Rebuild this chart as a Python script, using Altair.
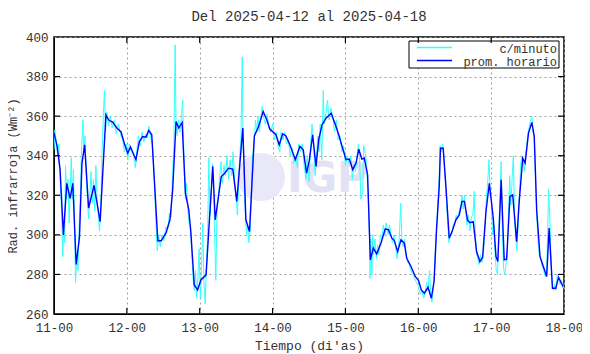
import altair as alt
import pandas as pd

# Hours since 2025-04-11 00:00, hourly average (blue)
blue_h = [0, 1, 2, 3.1, 4.2, 5.3, 6.2, 7.3, 8.4, 9.2, 10.1, 11.4, 13.2, 15.2, 17.1, 18, 19.3, 20.7, 22.1, 23.3,
          24.3, 25.2, 27, 28.1, 29.2, 30.3, 31.2, 32.2, 34.2, 35.3, 36.9, 38.2, 39.1, 40.2, 41.1, 42.2, 43.3, 44.4,
          45.1, 46.2, 47.3, 48.4, 50.1, 51.2, 52.3, 53.1, 55.1, 56.1, 57.5, 58.9, 60.2, 62.2, 63.2, 64.4, 66, 67.4,
          68.9, 70.1, 71.1, 73.1, 74.2, 75.3, 76.4, 77.7, 79.5, 81.0, 82.1, 83.2, 84.1, 85.2, 86.3, 87.2, 88.3, 89.6,
          91.3, 92.7, 93.8, 94.9, 96.2, 97.3, 98.4, 99.5, 100.4, 101.4, 102.2, 103.3, 104.2, 105.2, 106.3, 107.7,
          109.1, 110.2, 111.3, 112.1, 113.2, 114.3, 115.4, 116.2, 117.6, 119, 120.1, 121.0, 122, 123.2, 124.3, 125.2,
          126.0, 126.9, 127.3, 128.2, 129.1, 130.2, 131.3, 132.4, 133.5, 134.4, 135.2, 136.2, 137, 138.1, 139.2,
          140.3, 141.2, 142.3, 143.4, 144.7, 145.6, 146.2, 147.3, 148.3, 149.1, 150.2, 151.1, 152.4, 153.2, 154.4,
          155.2, 156.3, 157.4, 158.2, 159, 160.1, 161.2, 162.3, 163.1, 164.2, 165.3, 166.2, 167.7]
blue_v = [351.5, 345, 333, 300, 326, 318.5, 326, 285, 299, 336, 345.5, 313.5, 325, 306.7, 360.7, 358, 357, 354, 352, 345.5,
          341.3, 344.4, 338, 347, 349.7, 349.4, 352.8, 350.6, 297, 297, 301, 307.6, 322.8, 357.3, 354, 356.8, 321, 312.6,
          300.8, 274.7, 272.2, 277.2, 279.8, 307.6, 334.6, 307.6, 329.5, 330.9, 333.7, 333.2, 316.9, 354, 307.6, 301.7, 350, 354.8,
          362.4, 358.2, 353.5, 350.6, 345.5, 351.1, 350, 345.5, 338, 344.7, 343, 331.2, 337.5, 350.6, 334.6, 348.1, 355.6, 359,
          361.5, 355.6, 350.6, 344.7, 338, 338.3, 333, 336.3, 343.3, 338.3, 338.8, 330.4, 287.4, 293.3, 290.4, 295.8,
          302.9, 302.6, 298.3, 297.1, 291.6, 297.5, 295.8, 288.2, 284, 279, 276.9, 272.2, 270.5, 273.5, 268, 276.4,
          302.5, 324.5, 343.8, 343.8, 324.5, 298.3, 302.5, 307.6, 310.1, 316.9, 316.9, 307.6, 306.2, 306.7, 291.6,
          286.5, 288.7, 311.8, 326.1, 308.4, 289, 286.5, 327.8, 287.4, 287.7, 319.4, 320.2, 296.6, 316, 338.8,
          336.3, 351.4, 356.8, 349.7, 312.6, 289, 284, 279, 303.4, 273, 273, 278.6, 273.8]

# Per-minute readings (cyan)
cyan_h = [0, 0.3, 0.7, 1.2, 1.6, 2.0, 2.5, 2.9, 3.2, 3.5, 3.8, 4.2, 4.6, 5.0, 5.3, 5.7, 6.0, 6.4, 6.8, 7.1, 7.5, 7.9,
          8.3, 8.7, 9.0, 9.5, 9.8, 10.2, 10.6, 11.0, 11.4, 11.8, 12.2, 12.6, 13.0, 13.4, 13.8, 14.2, 14.6, 15.0, 15.4,
          15.8, 16.3, 16.6, 17.0, 17.4, 18.0, 18.5, 19.2, 19.8, 20.5, 21.2, 22.0, 22.6, 23.2, 23.8,
          24.3, 24.8, 25.5, 26.2, 26.8, 27.3, 27.8, 28.4, 29.0, 29.6, 30.2, 30.8, 31.3, 32.0, 32.4,
          33.0, 33.6, 34.0, 34.5, 35.0, 35.6, 36.2, 36.8, 37.5, 38.0, 38.6, 39.0,
          39.5, 39.9, 40.2, 40.6, 41.0, 41.5, 42.0, 42.4, 42.8, 43.3, 43.7, 44.2, 44.6, 45.0,
          45.4, 45.8, 46.2, 46.6, 47.0, 47.4, 47.8, 48.2, 48.6, 49.0, 49.4, 49.8, 50.2, 50.6,
          51.0, 51.4, 51.8, 52.2, 52.6, 53.0, 53.3, 53.7, 54.2,
          54.6, 55.0, 55.5, 56.0, 56.5, 57.0, 57.5, 58.0, 58.5, 59.0, 59.5, 60.0, 60.4,
          60.8, 61.2, 61.6, 62.0, 62.3, 62.6, 63.0, 63.4, 63.8, 64.2, 64.6, 65.0, 65.4,
          66.0, 66.4, 66.8, 67.2, 67.6, 68.2, 68.6, 69.0, 69.6, 70.2, 70.8, 71.4,
          72.0, 72.6, 73.2, 73.8, 74.4, 74.8, 75.4, 76.0, 76.6, 77.2, 77.8, 78.4, 79.0, 79.6, 80.2, 80.6, 81.2, 81.8,
          82.4, 83.0, 83.4, 84.0,
          84.5, 85.0, 85.5, 86.0, 86.4, 86.9, 87.3, 87.7, 88.2, 88.7, 89.0, 89.6, 90.1, 90.6, 91.2, 91.8,
          92.4, 93.0, 93.6, 94.2, 94.8, 95.4, 96.0, 96.6, 97.2, 97.8, 98.3, 98.8, 99.3, 99.8, 100.3, 100.7, 101.1,
          101.7, 102.0, 102.5, 103.0,
          103.5, 103.9, 104.1, 104.4, 104.7, 105.0, 105.3, 105.7, 106.2, 106.6, 107.0, 107.5, 108.0, 108.5, 109.0,
          109.4, 110.0, 110.5, 111.0, 111.5, 112.0, 112.5, 113.0, 113.4, 113.8, 114.2, 114.6, 115.0, 115.5, 116.0,
          116.5, 117.0, 117.6, 118.2, 118.8, 119.4, 120.0, 120.6, 121.2, 121.8, 122.3, 122.8, 123.2, 123.7, 124.1,
          124.5, 124.9, 125.3,
          125.7, 126.1, 126.5, 126.9, 127.2, 127.6, 128.0, 128.4, 128.8, 129.2, 129.7, 130.1, 130.5,
          131.0, 131.5, 132.0, 132.5, 133.0, 133.5, 134.0, 134.4, 134.8, 135.2, 135.6, 136.0, 136.5, 137.0, 137.5,
          138.0, 138.4, 138.8, 139.2,
          139.6, 140.0, 140.5, 141.0, 141.5, 142.0, 142.4, 142.8, 143.3, 143.7, 144.1, 144.5, 144.9, 145.3, 145.7,
          146.1, 146.5, 146.9, 147.3, 147.7, 148.1, 148.5, 148.9,
          149.3, 149.7, 150.1, 150.5, 150.9, 151.3, 151.7, 152.1, 152.5, 152.9, 153.3, 153.7, 154.1, 154.5, 154.9,
          155.3, 155.7, 156.2, 156.6, 157.0, 157.4, 157.8, 158.2, 158.6, 159.0, 159.4,
          159.8, 160.3, 160.8, 161.3, 161.8, 162.2, 162.6, 162.9, 163.3, 163.7, 164.1, 164.5, 164.9, 165.3, 165.8,
          166.2, 166.7, 167.2, 167.7, 168]
cyan_v = [343, 353, 348, 340, 346, 330, 312, 289, 305, 296, 335, 318, 328, 306, 322, 339, 318, 333, 300, 276, 290, 282,
          305, 320, 340, 358, 342, 350, 330, 318, 308, 320, 332, 316, 328, 312, 335, 318, 310, 302, 312,
          340, 362, 373, 352, 362, 355, 360, 354, 358, 351, 356, 350, 348, 342, 346,
          338, 346, 342, 340, 334, 343, 350, 345, 352, 347, 351, 349, 355, 348, 346,
          330, 305, 292, 300, 294, 300, 297, 304, 303, 311, 309, 330,
          345, 396, 355, 350, 358, 352, 360, 368, 340, 318, 326, 310, 305, 305,
          290, 278, 272, 282, 268, 278, 293, 268, 283, 306, 276, 265, 285, 300,
          339, 310, 320, 336, 322, 295, 277, 312, 320,
          330, 337, 326, 335, 330, 340, 328, 338, 330, 342, 328, 320, 310,
          325, 340, 350, 390, 345, 330, 312, 300, 305, 296, 302, 320, 340,
          348, 358, 352, 360, 352, 360, 365, 360, 356, 361, 354, 352,
          356, 348, 352, 345, 342, 352, 348, 352, 346, 348, 340, 344, 336, 340, 334, 346, 342, 346,
          335, 328, 340, 327,
          345, 356, 345, 330, 338, 350, 342, 356, 338, 373, 356, 362, 368, 358, 364, 360,
          352, 358, 348, 350, 342, 345, 335, 340, 336, 340, 328, 336, 332, 340, 346, 337, 318,
          322, 345, 342, 335,
          320, 300, 278, 298, 280, 300, 290, 298, 288, 295, 290, 300, 298, 305, 300,
          306, 300, 305, 300, 296, 300, 294, 288, 292, 300, 316, 298, 294, 298, 290,
          286, 285, 282, 280, 278, 276, 274, 270, 272, 268, 272, 276, 272, 282, 270,
          266, 272, 280,
          295, 305, 318, 330, 345, 342, 346, 340, 330, 320, 305, 296, 300,
          300, 305, 306, 310, 308, 312, 315, 320, 313, 320, 312, 305, 310, 302, 309,
          310, 322, 300, 290,
          288, 285, 290, 286, 292, 305, 318, 325, 338, 320, 318, 300, 305, 290, 282,
          280, 300, 320, 337, 300, 283, 280, 285,
          290, 310, 330, 315, 328, 340, 310, 298, 292, 305, 320, 335, 340, 338, 332,
          340, 345, 352, 355, 358, 360, 352, 350, 330, 310, 298,
          290, 288, 284, 282, 279, 280, 300, 323, 310, 290, 275, 272, 275, 272, 280,
          278, 275, 277, 273, 275]

series_names = ["c/minuto", "prom. horario"]
series_colors = ["#33ffff", "#0000ff"]
day_ticks = [0, 24, 48, 72, 96, 120, 144, 168]
y_ticks = [260, 280, 300, 320, 340, 360, 380, 400]

df_cyan = pd.DataFrame({"h": cyan_h, "v": cyan_v, "serie": series_names[0]})
df_blue = pd.DataFrame({"h": blue_h, "v": blue_v, "serie": series_names[1]})

FONT = "Liberation Mono"
TXT = "#333333"
W, H = 510, 277

xscale = alt.Scale(domain=[0, 168], nice=False, zero=False)
yscale = alt.Scale(domain=[260, 400], nice=False, zero=False)
color = alt.Color("serie:N", scale=alt.Scale(domain=series_names, range=series_colors), legend=None)

common_axis = dict(grid=True, gridDash=[2, 3], gridColor="#a0a0a0", tickSize=0,
                   domainColor="black", labelFont=FONT, labelFontSize=12.5, labelColor=TXT,
                   titleFont=FONT, titleFontWeight="normal", titleColor=TXT,
                   labelOverlap=False, labelFlush=False, labelBound=False)
xaxis = alt.Axis(values=day_ticks, labelExpr="format(11 + datum.value / 24, 'd') + '-00'",
                 title="Tiempo (di'as)", titleFontSize=13, labelPadding=7, titlePadding=6, **common_axis)
yaxis = alt.Axis(values=y_ticks, title="Rad. infrarroja (Wm⁻²)", titleFontSize=12, labelPadding=6,
                 titlePadding=6, **common_axis)

X = lambda f: alt.X(f, scale=xscale, axis=xaxis)
Y = lambda f: alt.Y(f, scale=yscale, axis=yaxis)

wm_df = pd.DataFrame({"t": ["IGP"]})
logo = alt.Chart(wm_df).mark_point(filled=True, shape="circle", color="#e8e8f8", opacity=1).encode(
    x=alt.value(207), y=alt.value(140), size=alt.value(2300))
logo_text = alt.Chart(wm_df).mark_text(font="DejaVu Sans", fontWeight="bold", fontSize=42,
                                       color="#e2e2f4", align="left", baseline="middle").encode(
    x=alt.value(233), y=alt.value(142), text="t:N")

cyan = alt.Chart(df_cyan).mark_line(strokeWidth=1, clip=True).encode(
    x=X("h:Q"), y=Y("v:Q"), color=color, order="h:Q")
blue = alt.Chart(df_blue).mark_line(strokeWidth=1.4, clip=True).encode(
    x=X("h:Q"), y=Y("v:Q"), color=color, order="h:Q")

# Legend box (drawn manually, gnuplot style)
leg_df = pd.DataFrame({"serie": series_names})
leg_box = alt.Chart(wm_df).mark_rect(fill="white", stroke="black", strokeWidth=1).encode(
    x=alt.value(355), x2=alt.value(505), y=alt.value(4), y2=alt.value(31))
leg_parts = []
for i, (name, col) in enumerate(zip(series_names, series_colors)):
    yy = 10.5 + i * 13
    d = leg_df[leg_df["serie"] == name]
    leg_parts.append(alt.Chart(d).mark_rule(color=col, strokeWidth=1.3).encode(
        x=alt.value(363), x2=alt.value(398), y=alt.value(yy)))
    leg_parts.append(alt.Chart(d).mark_text(font=FONT, fontSize=12, color=TXT, align="right",
                                            baseline="middle").encode(
        x=alt.value(503), y=alt.value(yy + 1.5), text="serie:N"))

xt_df = pd.DataFrame({"h": day_ticks[1:-1]})
yt_df = pd.DataFrame({"v": y_ticks[1:-1]})
xt_bot = alt.Chart(xt_df).mark_rule(color="black", strokeWidth=1.2).encode(
    x=X("h:Q"), y=alt.value(H - 6), y2=alt.value(H))
xt_top = alt.Chart(xt_df).mark_rule(color="black", strokeWidth=1.2).encode(
    x=X("h:Q"), y=alt.value(0), y2=alt.value(6))
yt_l = alt.Chart(yt_df).mark_rule(color="black", strokeWidth=1.2).encode(
    y=Y("v:Q"), x=alt.value(0), x2=alt.value(6))
yt_r = alt.Chart(yt_df).mark_rule(color="black", strokeWidth=1.2).encode(
    y=Y("v:Q"), x=alt.value(W - 6), x2=alt.value(W))

chart = alt.layer(logo, logo_text, cyan, blue, leg_box, *leg_parts, xt_bot, xt_top, yt_l, yt_r).properties(
    width=W, height=H,
    title=alt.Title("Del 2025-04-12 al 2025-04-18", font=FONT, fontSize=14, fontWeight="normal",
                    color=TXT, offset=7),
    autosize=alt.AutoSizeParams(type="none"),
    padding={"left": 46, "top": 29, "right": 18, "bottom": 40},
    background="white",
).configure_view(stroke="black", strokeWidth=1.5)

chart.save("out.html", embed_options={"renderer": "svg", "actions": False})
